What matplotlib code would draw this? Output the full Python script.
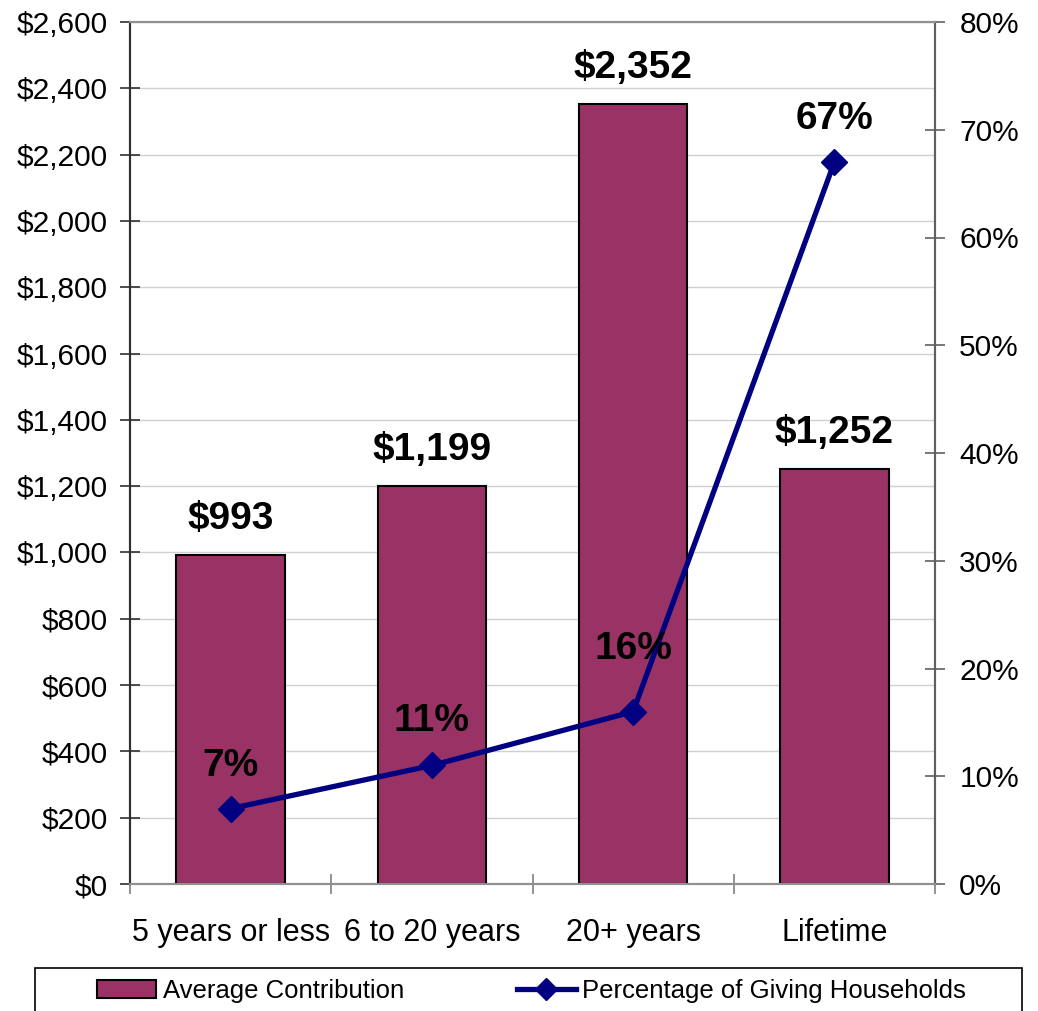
import matplotlib
matplotlib.use('Agg')
import matplotlib.pyplot as plt
from matplotlib.patches import Patch, Rectangle
from matplotlib.lines import Line2D
from matplotlib.ticker import FuncFormatter, MultipleLocator, FixedLocator

plt.rcParams['font.family'] = ['Liberation Sans', 'DejaVu Sans']

# data
categories = ['5 years or less', '6 to 20 years', '20+ years', 'Lifetime']
avg_contribution = [993, 1199, 2352, 1252]
pct_households = [7, 11, 16, 67]
pct_label_offsets = [31, 32, 45, 31]  # points above each marker

bar_color = '#993366'
line_color = '#000080'

W, H = 1038, 1011
fig = plt.figure(figsize=(W / 100, H / 100), dpi=100)
ax = fig.add_axes([130 / W, 1 - 884 / H, 805 / W, 862 / H])
ax2 = ax.twinx()

x = list(range(len(categories)))

# bars - average contribution
ax.bar(x, avg_contribution, width=0.54, color=bar_color, edgecolor='black',
       linewidth=1.5, zorder=3)
for xi, v in zip(x, avg_contribution):
    ax.annotate('${:,}'.format(v), (xi, v), xytext=(0, 26), textcoords='offset points',
                ha='center', va='center', fontsize=28, fontweight='bold', zorder=5)

ax.set_xlim(-0.5, len(categories) - 0.5)
ax.set_ylim(0, 2600)
ax.yaxis.set_major_locator(MultipleLocator(200))
ax.yaxis.set_major_formatter(FuncFormatter(lambda v, p: '${:,.0f}'.format(v)))
ax.grid(axis='y', color='#d0d0d0', linewidth=1, zorder=0)
ax.set_axisbelow(True)

# category labels between boundary ticks
ax.set_xticks(x)
ax.set_xticklabels(categories)
ax.xaxis.set_minor_locator(FixedLocator([i - 0.5 for i in range(len(categories) + 1)]))
ax.tick_params(axis='x', which='major', length=0, pad=24.5, labelsize=22)
ax.tick_params(axis='x', which='minor', direction='inout', length=15, width=1.2, color='#808080')
ax.tick_params(axis='y', direction='inout', length=15, width=1.2, color='#303030',
               labelsize=21.5, pad=8.5)

# line - percentage of giving households
ax2.plot(x, pct_households, color=line_color, linewidth=3.8, marker='D', markersize=13.5,
         zorder=4)
for xi, v, off in zip(x, pct_households, pct_label_offsets):
    ax2.annotate('{}%'.format(v), (xi, v), xytext=(0, off), textcoords='offset points',
                 ha='center', va='center', fontsize=28, fontweight='bold', zorder=5)
ax2.set_ylim(0, 80)
ax2.yaxis.set_major_locator(MultipleLocator(10))
ax2.yaxis.set_major_formatter(FuncFormatter(lambda v, p: '{:.0f}%'.format(v)))
ax2.tick_params(axis='y', direction='inout', length=15, width=1.2, color='#606060',
                labelsize=21.5, pad=10)

for a in (ax, ax2):
    a.spines['top'].set_color('#909090')
    a.spines['bottom'].set_color('#909090')
    a.spines['right'].set_color('#606060')
    a.spines['left'].set_color('#303030')
    for s in a.spines.values():
        s.set_linewidth(1.5)

# legend box at the bottom
fig.add_artist(Rectangle((35 / W, -0.02), 987 / W, 0.02 + (1011 - 968) / H,
                         transform=fig.transFigure, fill=False, edgecolor='black',
                         linewidth=1.2))
handles = [Patch(facecolor=bar_color, edgecolor='black', linewidth=1.5),
           Line2D([], [], color=line_color, linewidth=3.8, marker='D', markersize=11.5)]
fig.legend(handles, ['Average Contribution', 'Percentage of Giving Households'],
           loc='center left', bbox_to_anchor=(97 / W, 1 - 991 / H), ncol=2,
           frameon=False, fontsize=18.5, borderpad=0, borderaxespad=0,
           handlelength=2.3, handleheight=0.65, handletextpad=0.25, columnspacing=4.4)

fig.savefig('out.png', dpi=100)
